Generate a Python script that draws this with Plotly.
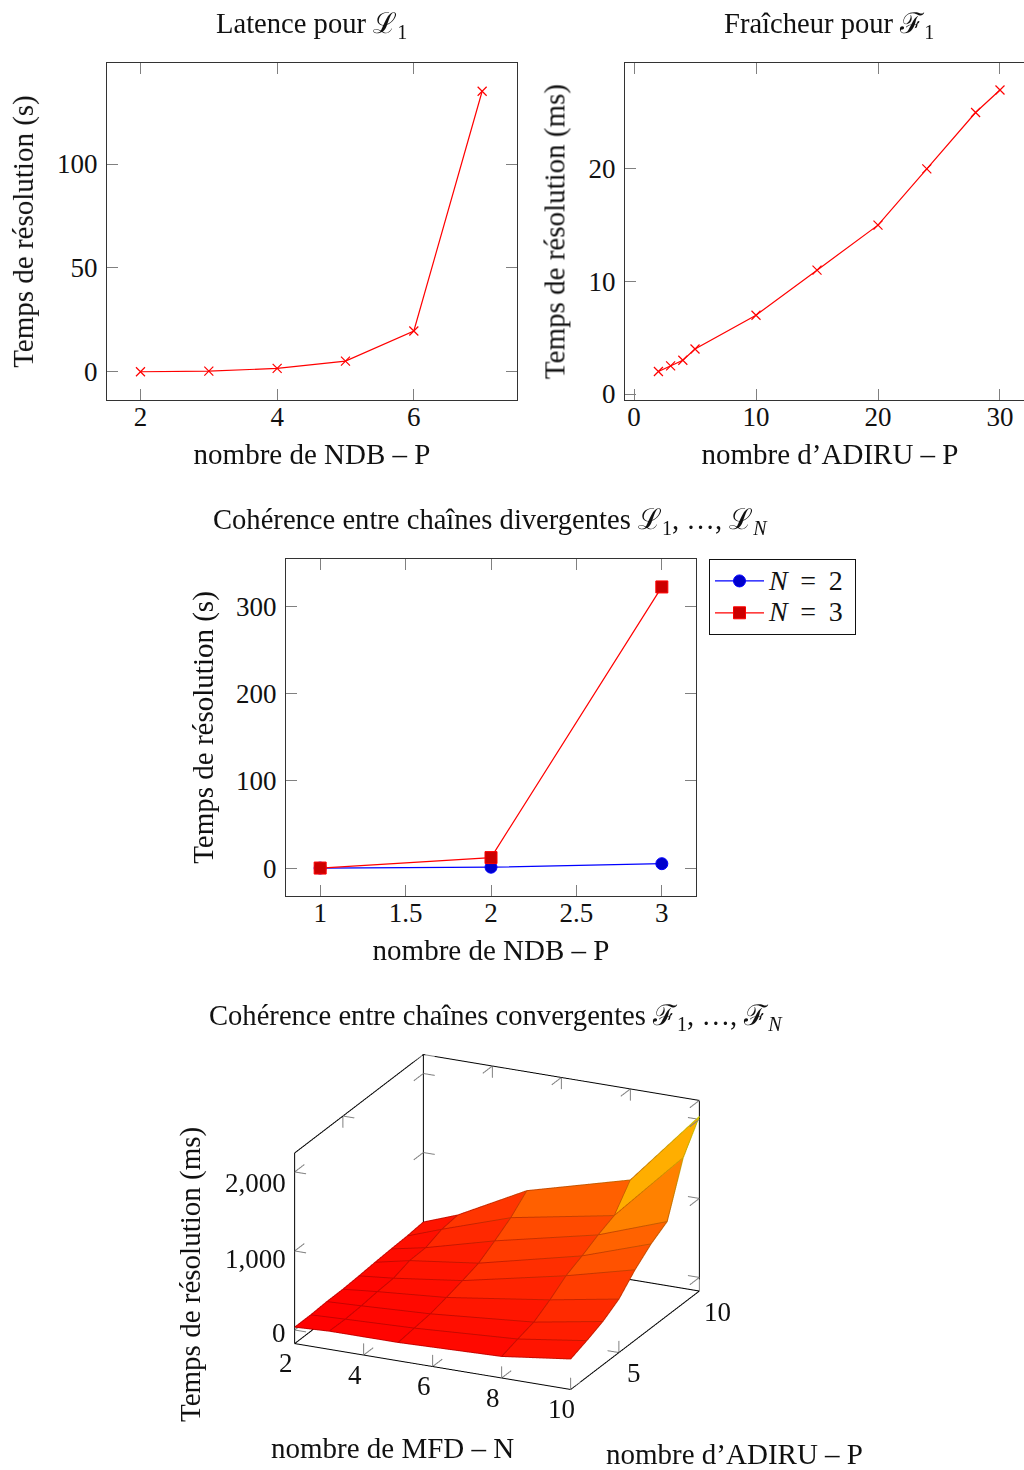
import math
import plotly.graph_objects as go

# ---- data ----
ndb_counts = [2, 3, 4, 5, 6, 7]
latency_s = [0.1, 0.4, 1.7, 5.2, 19.7, 135]
adiru_counts = [2, 3, 4, 5, 10, 15, 20, 24, 28, 30]
freshness_ms = [2, 2.5, 3, 4, 7, 11, 15, 20, 25, 27]
ndb_coh = [1, 2, 3]
coh_n2 = [0, 1, 5]
coh_n3 = [0, 12, 322]
mfd_n = [2, 3, 5, 8, 10]
adiru_p = [2, 3, 4, 5, 6, 7, 8, 9, 10]
conv_ms = [  # rows: adiru_p, columns: mfd_n
    [30, 52, 54, 95, 208],
    [30, 48, 80, 160, 284],
    [42, 61, 105, 218, 371],
    [43, 85, 156, 344, 499],
    [56, 99, 214, 493, 714],
    [72, 166, 279, 589, 886],
    [85, 174, 405, 699, 1013],
    [94, 251, 543, 787, 1667],
    [114, 276, 729, 1082, 2031],
]
x3_ticks = [2, 4, 6, 8, 10]
y3_ticks = [5, 10]
z3_ticks = [0, 1000, 2000]

# ---- page ----
W, H = 1040, 1470
SERIF = "Liberation Serif, DejaVu Serif, serif"
TXT = 29
HEAD = 28.6
TICK = 27
def xp(px): return px / W
def yp(py): return 1 - py / H

fig = go.Figure()

def axis(dom, rng, ticks, title, standoff, lab):
    return dict(domain=dom, range=rng, tickmode="array", tickvals=ticks,
                ticktext=[str(t) for t in ticks],
                ticks="inside", ticklen=11, tickwidth=1, tickcolor="#808080",
                mirror="ticks", showline=True, linecolor="#333333", linewidth=1,
                showgrid=False, zeroline=False, automargin=False,
                tickfont=dict(family=SERIF, size=TICK, color="#111111"),
                ticklabelstandoff=lab,
                title=dict(text=title, standoff=standoff,
                           font=dict(family=SERIF, size=TXT, color="#111111")))

YT = "Temps de résolution (s)"
YTM = "Temps de résolution (ms)"
XL, YL = -7, 3
layout = dict(
    width=W, height=H, autosize=False, margin=dict(l=0, r=0, t=0, b=0, pad=0),
    paper_bgcolor="white", plot_bgcolor="white", hovermode=False,
    xaxis=dict(axis([xp(107), xp(517)], [1.51, 7.51], [2, 4, 6], "nombre de NDB – P", 12, XL), anchor="y"),
    yaxis=dict(axis([yp(400), yp(63)], [-13.5, 148.6], [0, 50, 100], YT, 15, YL), anchor="x"),
    xaxis2=dict(axis([xp(625), xp(1035)], [-0.74, 32.87], [0, 10, 20, 30], "nombre d’ADIRU – P", 12, XL), anchor="y2"),
    yaxis2=dict(axis([yp(400), yp(63)], [-0.53, 29.4], [0, 10, 20], YTM, 15, YL), anchor="x2"),
    xaxis3=dict(axis([xp(286), xp(696)], [0.8, 3.2], [1, 1.5, 2, 2.5, 3], "nombre de NDB – P", 12, XL), anchor="y3"),
    yaxis3=dict(axis([yp(896), yp(559)], [-32, 354], [0, 100, 200, 300], YT, 13, YL), anchor="x3"),
    legend=dict(x=xp(709), y=yp(559), xanchor="left", yanchor="top", bgcolor="white",
                bordercolor="#111111", borderwidth=1, itemwidth=49,
                tracegroupgap=0,
                font=dict(family=SERIF, size=22.2, color="#111111")),
)

cross = dict(symbol="x-thin", size=9, color="red", line=dict(color="red", width=1.2))
fig.add_trace(go.Scatter(x=ndb_counts, y=latency_s, mode="lines+markers", xaxis="x", yaxis="y",
                         line=dict(color="red", width=1.2), marker=cross, showlegend=False))
fig.add_trace(go.Scatter(x=adiru_counts, y=freshness_ms, mode="lines+markers", xaxis="x2", yaxis="y2",
                         line=dict(color="red", width=1.2), marker=cross, showlegend=False))
lab2 = '<span style="font-size:28px"><i>N</i> \u2009= \u20092\u2009</span>'
lab3 = '<span style="font-size:28px"><i>N</i> \u2009= \u20093\u2009</span>'
fig.add_trace(go.Scatter(x=ndb_coh, y=coh_n2, mode="lines+markers", xaxis="x3", yaxis="y3", name=lab2,
                         line=dict(color="blue", width=1.2),
                         marker=dict(symbol="circle", size=12, color="#0000cc", line=dict(color="blue", width=1))))
fig.add_trace(go.Scatter(x=ndb_coh, y=coh_n3, mode="lines+markers", xaxis="x3", yaxis="y3", name=lab3,
                         line=dict(color="red", width=1.2),
                         marker=dict(symbol="square", size=12, color="#cc0000", line=dict(color="red", width=1))))

# ---- 3D surface: one flat colour per grid cell ----
nx, ny = len(mfd_n), len(adiru_p)
vx, vy, vz = [], [], []
for r in range(ny):
    for c in range(nx):
        vx.append(mfd_n[c]); vy.append(adiru_p[r]); vz.append(conv_ms[r][c])
zlo = min(vz); zhi = max(vz)
def col(t, k=1.0):
    return "rgb(%d,%d,0)" % (round(255 * k), round(255 * t * k))
ti, tj, tk, fc = [], [], [], []
for r in range(ny - 1):
    for c in range(nx - 1):
        a = r * nx + c; b = a + 1; d = a + nx; e = d + 1
        mean = (vz[a] + vz[b] + vz[d] + vz[e]) / 4
        f = col((mean - zlo) / (zhi - zlo))
        ti += [a, a]; tj += [b, e]; tk += [e, d]; fc += [f, f]
fig.add_trace(go.Mesh3d(x=vx, y=vy, z=vz, i=ti, j=tj, k=tk, facecolor=fc, flatshading=True,
                        lighting=dict(ambient=1, diffuse=0, specular=0, fresnel=0, roughness=1),
                        hoverinfo="skip", showscale=False, scene="scene"))
# mesh lines, lifted a hair above the faces so they are not hidden by them
LIFT = 6
for r in range(ny):
    zs = conv_ms[r]
    fig.add_trace(go.Scatter3d(x=mfd_n, y=[adiru_p[r]] * nx, z=[z + LIFT for z in zs], mode="lines",
                               showlegend=False, scene="scene",
                               line=dict(width=2, color=[col((z - zlo) / (zhi - zlo), 0.78) for z in zs])))
for c in range(nx):
    zs = [row[c] for row in conv_ms]
    fig.add_trace(go.Scatter3d(x=[mfd_n[c]] * ny, y=adiru_p, z=[z + LIFT for z in zs], mode="lines",
                               showlegend=False, scene="scene",
                               line=dict(width=2, color=[col((z - zlo) / (zhi - zlo), 0.78) for z in zs])))

# box
XR = [2, 10]; YR = [2, 10]; ZR = [-172, 2240]
x0, x1 = XR; y0, y1 = YR; z0, z1 = ZR
edges = [((x0, y0, z0), (x1, y0, z0)), ((x1, y0, z0), (x1, y1, z0)), ((x1, y1, z0), (x0, y1, z0)),
         ((x0, y1, z0), (x0, y0, z0)), ((x0, y0, z0), (x0, y0, z1)), ((x0, y1, z0), (x0, y1, z1)),
         ((x1, y1, z0), (x1, y1, z1)), ((x0, y0, z1), (x0, y1, z1)), ((x0, y1, z1), (x1, y1, z1))]
def segs(lst):
    ex, ey, ez = [], [], []
    for p, q in lst:
        ex += [p[0], q[0], None]; ey += [p[1], q[1], None]; ez += [p[2], q[2], None]
    return ex, ey, ez
ex, ey, ez = segs(edges)
fig.add_trace(go.Scatter3d(x=ex, y=ey, z=ez, mode="lines", line=dict(color="#000000", width=2),
                           showlegend=False, scene="scene"))
# tick marks on the walls
dx, dy, dz = 0.33, 0.6, 148
tk_segs = []
for t in x3_ticks:
    if t not in (x0,):
        tk_segs += [((t, y0, z0), (t, y0 + dy, z0)), ((t, y0, z0), (t, y0, z0 + dz))]
    tk_segs += [((t, y1, z1), (t, y1 - dy, z1)), ((t, y1, z1), (t, y1, z1 - dz))]
for t in y3_ticks:
    tk_segs += [((x1, t, z0), (x1 - dx, t, z0)), ((x1, t, z0), (x1, t, z0 + dz))]
    tk_segs += [((x0, t, z1), (x0 + dx, t, z1)), ((x0, t, z1), (x0, t, z1 - dz))]
for t in z3_ticks:
    tk_segs += [((x0, y0, t), (x0 + dx, y0, t)), ((x0, y0, t), (x0, y0 + dy, t))]
    tk_segs += [((x0, y1, t), (x0 + dx, y1, t)), ((x0, y1, t), (x0, y1 - dy, t))]
    tk_segs += [((x1, y1, t), (x1 - dx, y1, t)), ((x1, y1, t), (x1, y1 - dy, t))]
ex, ey, ez = segs(tk_segs)
fig.add_trace(go.Scatter3d(x=ex, y=ey, z=ez, mode="lines", line=dict(color="#808080", width=2),
                           showlegend=False, scene="scene"))

phi, eps = math.radians(25), math.radians(20.9)
EYE = 2.0
eye = dict(x=EYE * math.sin(phi) * math.cos(eps), y=-EYE * math.cos(phi) * math.cos(eps), z=EYE * math.sin(eps))
hidden = dict(visible=False, showgrid=False, zeroline=False, showbackground=False, showspikes=False,
              showline=False, showticklabels=False, autorange=False)
tf = dict(family=SERIF, size=TICK, color="#111111")
notes = []
for t in x3_ticks:
    notes.append(dict(x=t, y=y0, z=z0, text=str(t), showarrow=False, xshift=-9, yshift=-20, font=tf))
y_xshift = {5: 15, 10: 18}
for t in y3_ticks:
    notes.append(dict(x=x1, y=t, z=z0, text=str(t), showarrow=False, xshift=y_xshift[t], yshift=-21, font=tf))
z_shift = {0: -3, 1000: -8, 2000: -11}
for t in z3_ticks:
    notes.append(dict(x=x0, y=y0, z=t, text=format(t, ","), showarrow=False, xanchor="right", xshift=-7,
                      yshift=z_shift[t], font=tf))
cx, cy = 497.15, 1221.65
R = 248
AS = 1.234
# the scene range is a hair wider than the drawn box, so edges on the bounds are not clipped
PADXY, PADZ = 0.02, 6
layout["scene"] = dict(
    domain=dict(x=[xp(cx - R), xp(cx + R)], y=[yp(cy + R), yp(cy - R)]),
    xaxis=dict(hidden, range=[x0 - PADXY, x1 + PADXY]),
    yaxis=dict(hidden, range=[y0 - PADXY, y1 + PADXY]),
    zaxis=dict(hidden, range=[z0 - PADZ, z1 + PADZ]),
    aspectmode="manual", aspectratio=dict(x=AS, y=AS, z=0.67 * AS),
    camera=dict(eye=eye, up=dict(x=0, y=0, z=1), center=dict(x=0, y=0, z=0),
                projection=dict(type="orthographic")),
    annotations=notes, bgcolor="rgba(0,0,0,0)",
)

def note(text, x, y, size=TXT, angle=0, **kw):
    return dict(text=text, xref="paper", yref="paper", x=xp(x), y=yp(y), showarrow=False, textangle=angle,
                xanchor="center", yanchor="middle", font=dict(family=SERIF, size=size, color="#111111"), **kw)
layout["annotations"] = [
    note("Latence pour ℒ<sub>1</sub>", 311, 26, HEAD),
    note("Fraîcheur pour ℱ<sub>1</sub>", 829, 26, HEAD),
    note("Cohérence entre chaînes divergentes ℒ<sub>1</sub>, …, ℒ<sub><i>N</i></sub>", 490, 521, HEAD),
    note("Cohérence entre chaînes convergentes ℱ<sub>1</sub>, …, ℱ<sub><i>N</i></sub>", 496, 1017, HEAD),
    note("nombre de MFD – N", 392, 1448),
    note("nombre d’ADIRU – P", 734, 1453.5, height=26),
    note(YTM, 190, 1275, angle=-90),
]
fig.update_layout(**layout)
fig.write_html("out.html", config=dict(displayModeBar=False, responsive=False),
               post_script="document.body.style.margin='0';document.body.style.overflow='hidden';")
